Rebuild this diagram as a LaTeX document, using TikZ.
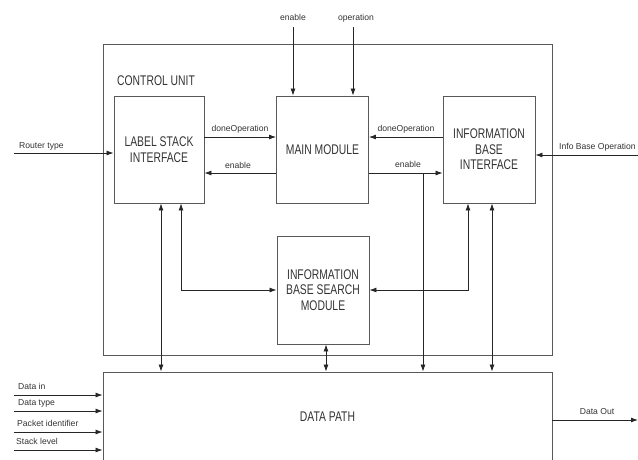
\documentclass[tikz,border=0pt]{standalone}
\usepackage{fontspec}
\setmainfont{Liberation Sans}
\newfontfamily\boxfont[FakeStretch=0.74]{Liberation Sans}
\usetikzlibrary{arrows.meta}
\begin{document}
\begin{tikzpicture}[x=1pt,y=-1pt,
  >={Latex[length=7pt,width=5pt]},
  blk/.style={draw=black!65, line width=0.9pt, align=center, font=\boxfont\fontsize{14}{15.5}\selectfont, text=black!80, inner sep=0pt},
  boxtxt/.style={align=center, font=\boxfont\fontsize{14}{15.5}\selectfont, text=black!80, inner sep=0pt},
  arr/.style={draw=black!85, line width=0.8pt, ->},
  arrtwo/.style={draw=black!85, line width=0.8pt, <->},
  lbl/.style={font=\fontsize{8.6}{10}\selectfont, text=black!80, inner sep=0pt, anchor=base}]
\useasboundingbox (0,0) rectangle (638,459);
% boxes
\node[blk, minimum width=449pt, minimum height=311pt] (cu) at (327.5,199.5) {};
\node[boxtxt, anchor=west] (cut) at (117,81) {CONTROL UNIT};
\node[blk, minimum width=90pt, minimum height=107pt] (lsi) at (159,149.5) {LABEL STACK\\INTERFACE};
\node[blk, minimum width=92pt, minimum height=107pt] (mm) at (322.5,149.5) {MAIN MODULE};
\node[blk, minimum width=92pt, minimum height=107pt] (ibi) at (489,149.5) {INFORMATION\\BASE\\INTERFACE};
\node[blk, minimum width=92pt, minimum height=108pt] (ibsm) at (323,290) {INFORMATION\\BASE SEARCH\\MODULE};
\node[blk, minimum width=449pt, minimum height=90pt] (dp) at (327.5,417) {DATA PATH};
% top inputs
\node[lbl] (enl) at (293,20) {enable};
\node[lbl] (opl) at (356,20) {operation};
\coordinate (en) at (293,27);
\coordinate (op) at (353,27);
\draw[arr] (en) -- (en |- mm.north);
\draw[arr] (op) -- (op |- mm.north);
% router type
\node[lbl, anchor=base west] (rtl) at (19,148) {Router type};
\coordinate (rt) at (14,153);
\draw[arr] (rt) -- (rt -| lsi.west);
% info base operation
\node[lbl, anchor=base west] (ibol) at (559,149) {Info Base Operation};
\coordinate (ibo) at (638,155);
\draw[arr] (ibo) -- (ibo -| ibi.east);
% LSI <-> MM
\draw[arr] ([yshift=12.5pt]lsi.east) -- ([yshift=12.5pt]mm.west);
\node[lbl] (do1) at (240,131) {doneOperation};
\draw[arr] ([yshift=-23.5pt]mm.west) -- ([yshift=-23.5pt]lsi.east);
\node[lbl] (en1) at (238,168) {enable};
% IBI <-> MM
\draw[arr] ([yshift=12.5pt]ibi.west) -- ([yshift=12.5pt]mm.east);
\node[lbl] (do2) at (406,131) {doneOperation};
\draw[arr] ([yshift=-23.5pt]mm.east) -- ([yshift=-23.5pt]ibi.west);
\node[lbl] (en2) at (408,167) {enable};
\coordinate (br) at (423,173);
\draw[arr] (br) -- (br |- dp.north);
% LSI bottom
\draw[arrtwo] ([xshift=2pt]lsi.south) -- ([xshift=2pt]lsi.south |- dp.north);
\draw[arrtwo] ([xshift=22pt]lsi.south) |- (ibsm.west);
% IBI bottom
\draw[arrtwo] ([xshift=-21pt]ibi.south) |- (ibsm.east);
\draw[arrtwo] ([xshift=3pt]ibi.south) -- ([xshift=3pt]ibi.south |- dp.north);
% IBSM to DP
\draw[arrtwo] ([xshift=3pt]ibsm.south) -- ([xshift=3pt]ibsm.south |- dp.north);
% data path inputs
\node[lbl, anchor=base west] (dil) at (18,389) {Data in};
\node[lbl, anchor=base west] (dtl) at (18,405) {Data type};
\node[lbl, anchor=base west] (pil) at (17,426) {Packet identifier};
\node[lbl, anchor=base west] (sll) at (16,444) {Stack level};
\coordinate (di) at (14,395);
\coordinate (dt) at (14,411);
\coordinate (pi) at (14,432);
\coordinate (sl) at (14,450);
\draw[arr] (di) -- (di -| dp.west);
\draw[arr] (dt) -- (dt -| dp.west);
\draw[arr] (pi) -- (pi -| dp.west);
\draw[arr] (sl) -- (sl -| dp.west);
% data out
\node[lbl] (dol) at (597,414) {Data Out};
\coordinate (dout) at (638,420);
\draw[arr] (dout -| dp.east) -- (dout);
\end{tikzpicture}
\end{document}
